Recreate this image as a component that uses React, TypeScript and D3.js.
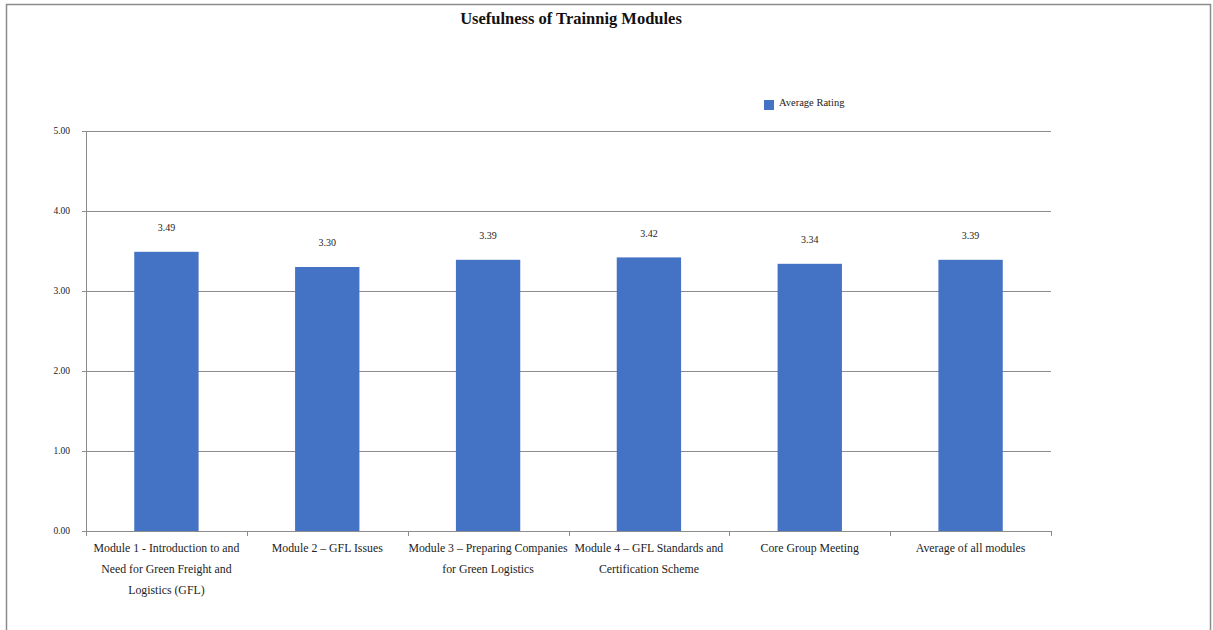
import React, { useEffect, useRef } from "react";
import * as d3 from "d3";

const title = "Usefulness of Trainnig Modules";
const seriesName = "Average Rating";
const categories: string[][] = [
  ["Module 1 - Introduction to and", "Need for Green Freight and", "Logistics (GFL)"],
  ["Module 2 – GFL Issues"],
  ["Module 3 – Preparing Companies", "for Green Logistics"],
  ["Module 4 – GFL Standards and", "Certification Scheme"],
  ["Core Group Meeting"],
  ["Average of all  modules"],
];
const ratings = [3.49, 3.3, 3.39, 3.42, 3.34, 3.39];
const yTicks = [0, 1, 2, 3, 4, 5];

const W = 1213;
const H = 630;
const FONT = "'Liberation Serif', 'DejaVu Serif', serif";

export default function App() {
  const ref = useRef<SVGSVGElement>(null);

  useEffect(() => {
    const svg = d3.select(ref.current);
    svg.selectAll("*").remove();

    // outer frame
    svg.append("rect")
      .attr("x", 6.5).attr("y", 4.5)
      .attr("width", 1204).attr("height", 640)
      .attr("fill", "#fff").attr("stroke", "#8c8c8c").attr("stroke-width", 1.5);

    const left = 86, right = 1051, top = 131, bottom = 531;
    const x = d3.scaleBand<number>().domain(d3.range(categories.length)).range([left, right]).padding(0);
    const y = d3.scaleLinear().domain([0, 5]).range([bottom, top]);
    const barW = x.bandwidth() * 0.4;

    // gridlines
    svg.append("g").selectAll("line").data(yTicks).join("line")
      .attr("x1", left - 4).attr("x2", right)
      .attr("y1", (d) => Math.round(y(d)) + 0.5).attr("y2", (d) => Math.round(y(d)) + 0.5)
      .attr("stroke", "#8c8c8c").attr("stroke-width", 1);

    // y axis line
    svg.append("line")
      .attr("x1", left + 0.5).attr("x2", left + 0.5)
      .attr("y1", top).attr("y2", bottom)
      .attr("stroke", "#8c8c8c");

    // y tick labels
    svg.append("g").selectAll("text").data(yTicks).join("text")
      .attr("x", left - 16).attr("y", (d) => y(d))
      .attr("dy", "0.32em")
      .attr("text-anchor", "end")
      .attr("font-family", FONT).attr("font-size", 9.5).attr("fill", "#222")
      .text((d) => d3.format(".2f")(d));

    // x category tick marks
    const bounds = d3.range(categories.length + 1).map((i) => left + i * x.step());
    svg.append("g").selectAll("line").data(bounds).join("line")
      .attr("x1", (d) => Math.round(d) + 0.5).attr("x2", (d) => Math.round(d) + 0.5)
      .attr("y1", bottom).attr("y2", bottom + 5)
      .attr("stroke", "#8c8c8c");

    // bars
    svg.append("g").selectAll("rect").data(ratings).join("rect")
      .attr("x", (_, i) => (x(i) as number) + x.bandwidth() / 2 - barW / 2)
      .attr("width", barW)
      .attr("y", (d) => y(d))
      .attr("height", (d) => bottom - y(d))
      .attr("fill", "#4472c4");

    // value labels
    svg.append("g").selectAll("text").data(ratings).join("text")
      .attr("x", (_, i) => (x(i) as number) + x.bandwidth() / 2)
      .attr("y", (d) => y(d) - 24)
      .attr("dy", "0.32em")
      .attr("text-anchor", "middle")
      .attr("font-family", FONT).attr("font-size", 10).attr("fill", "#222")
      .text((d) => d3.format(".2f")(d));

    // category labels
    const cat = svg.append("g").selectAll("text").data(categories).join("text")
      .attr("text-anchor", "middle")
      .attr("font-family", FONT).attr("font-size", 11.8).attr("fill", "#222");
    cat.each(function (lines, i) {
      const t = d3.select(this);
      lines.forEach((ln, j) => {
        t.append("tspan")
          .attr("x", (x(i) as number) + x.bandwidth() / 2)
          .attr("y", 548 + j * 21)
          .attr("dy", "0.32em")
          .text(ln);
      });
    });

    // legend
    svg.append("rect").attr("x", 764).attr("y", 100).attr("width", 10).attr("height", 10).attr("fill", "#4472c4");
    svg.append("text").attr("x", 779).attr("y", 103).attr("dy", "0.32em")
      .attr("font-family", FONT).attr("font-size", 10.5).attr("fill", "#222")
      .text(seriesName);

    // title
    svg.append("text").attr("x", 571).attr("y", 19).attr("dy", "0.32em")
      .attr("text-anchor", "middle")
      .attr("font-family", FONT).attr("font-size", 16.5).attr("font-weight", "bold").attr("fill", "#111")
      .text(title);
  }, []);

  return (
    <svg ref={ref} width={W} height={H}
      style={{ position: "absolute", left: 0, top: 0, background: "#fff" }} />
  );
}
